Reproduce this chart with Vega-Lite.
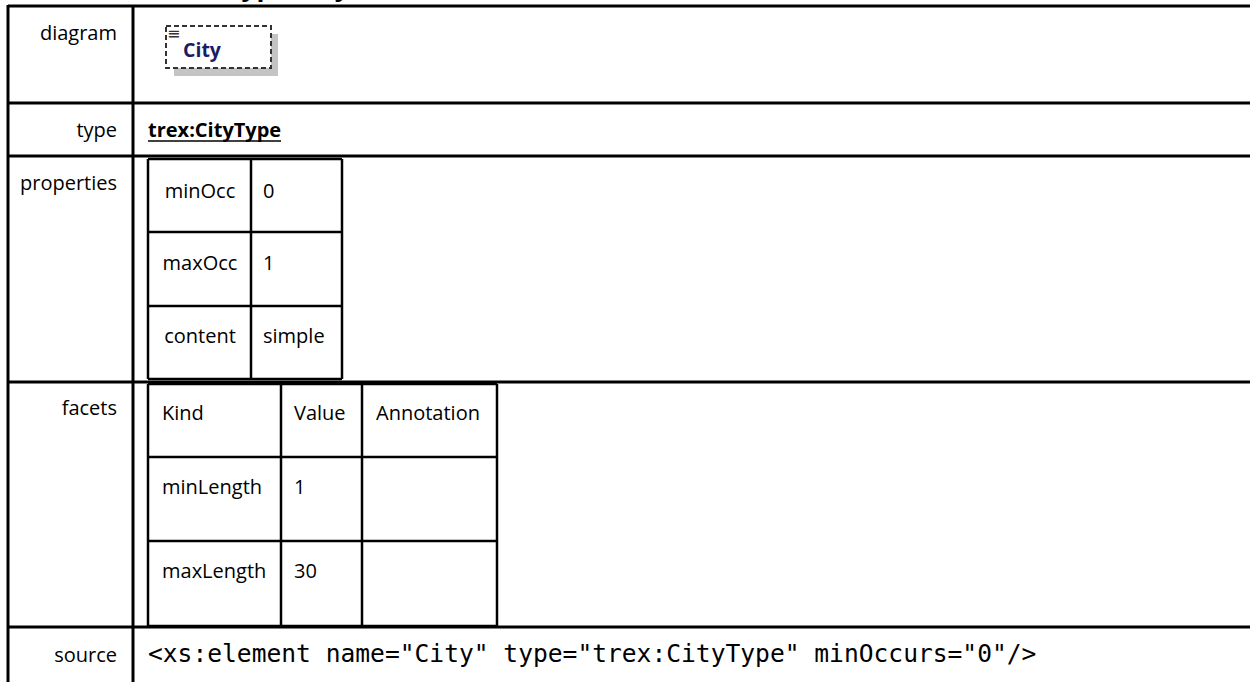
{
  "$schema": "https://vega.github.io/schema/vega-lite/v6.json",
  "width": 1250,
  "height": 682,
  "padding": 0,
  "autosize": {"type": "none"},
  "background": "white",
  "config": {"view": {"stroke": null}},
  "datasets": {
    "boxes": [
      {"part": "shadow", "x": 174, "x2": 278, "y": 34, "y2": 76},
      {"part": "box", "x": 166, "x2": 271, "y": 26, "y2": 68}
    ],
    "rules": [
      {"tbl": "outer", "x": 8, "x2": 1250, "y": 6, "y2": 6},
      {"tbl": "outer", "x": 8, "x2": 1250, "y": 103, "y2": 103},
      {"tbl": "outer", "x": 8, "x2": 1250, "y": 156, "y2": 156},
      {"tbl": "outer", "x": 8, "x2": 1250, "y": 382, "y2": 382},
      {"tbl": "outer", "x": 8, "x2": 1250, "y": 627, "y2": 627},
      {"tbl": "outer", "x": 8, "x2": 8, "y": 5, "y2": 682},
      {"tbl": "outer", "x": 133, "x2": 133, "y": 5, "y2": 682},
      {"tbl": "inner", "x": 148, "x2": 342, "y": 159, "y2": 159},
      {"tbl": "inner", "x": 148, "x2": 342, "y": 232, "y2": 232},
      {"tbl": "inner", "x": 148, "x2": 342, "y": 306, "y2": 306},
      {"tbl": "inner", "x": 148, "x2": 342, "y": 379, "y2": 379},
      {"tbl": "inner", "x": 148, "x2": 148, "y": 159, "y2": 379},
      {"tbl": "inner", "x": 251, "x2": 251, "y": 159, "y2": 379},
      {"tbl": "inner", "x": 342, "x2": 342, "y": 159, "y2": 379},
      {"tbl": "inner", "x": 148, "x2": 497, "y": 384, "y2": 384},
      {"tbl": "inner", "x": 148, "x2": 497, "y": 457, "y2": 457},
      {"tbl": "inner", "x": 148, "x2": 497, "y": 541, "y2": 541},
      {"tbl": "inner", "x": 148, "x2": 497, "y": 626, "y2": 626},
      {"tbl": "inner", "x": 148, "x2": 148, "y": 384, "y2": 626},
      {"tbl": "inner", "x": 281, "x2": 281, "y": 384, "y2": 626},
      {"tbl": "inner", "x": 362, "x2": 362, "y": 384, "y2": 626},
      {"tbl": "inner", "x": 497, "x2": 497, "y": 384, "y2": 626},
      {"tbl": "underline", "x": 148, "x2": 281, "y": 141, "y2": 141}
    ],
    "texts": [
      {"role": "title", "text": "element AddressType/City", "x": 8, "y": -4},
      {"role": "label", "text": "diagram", "x": 117, "y": 40},
      {"role": "label", "text": "type", "x": 117, "y": 137},
      {"role": "label", "text": "properties", "x": 117, "y": 190},
      {"role": "label", "text": "facets", "x": 117, "y": 415},
      {"role": "label", "text": "source", "x": 117, "y": 662},
      {"role": "link", "text": "trex:CityType", "x": 148, "y": 137},
      {"role": "center", "text": "minOcc", "x": 200, "y": 198},
      {"role": "center", "text": "maxOcc", "x": 200, "y": 270},
      {"role": "center", "text": "content", "x": 200, "y": 343},
      {"role": "cell", "text": "0", "x": 263, "y": 198},
      {"role": "cell", "text": "1", "x": 263, "y": 270},
      {"role": "cell", "text": "simple", "x": 263, "y": 343},
      {"role": "cell", "text": "Kind", "x": 162, "y": 420},
      {"role": "cell", "text": "Value", "x": 294, "y": 420},
      {"role": "cell", "text": "Annotation", "x": 376, "y": 420},
      {"role": "cell", "text": "minLength", "x": 162, "y": 494},
      {"role": "cell", "text": "1", "x": 294, "y": 494},
      {"role": "cell", "text": "maxLength", "x": 162, "y": 578},
      {"role": "cell", "text": "30", "x": 294, "y": 578},
      {"role": "code", "text": "<xs:element name=\"City\" type=\"trex:CityType\" minOccurs=\"0\"/>", "x": 148, "y": 662},
      {"role": "boxname", "text": "City", "x": 183, "y": 57},
      {"role": "icon", "text": "≡", "x": 167, "y": 39}
    ]
  },
  "encoding": {
    "x": {"field": "x", "type": "quantitative", "scale": {"domain": [0, 1250], "range": [0, 1250], "zero": false, "nice": false}, "axis": null},
    "y": {"field": "y", "type": "quantitative", "scale": {"domain": [0, 682], "range": [0, 682], "zero": false, "nice": false}, "axis": null}
  },
  "layer": [
    {
      "data": {"name": "boxes"},
      "transform": [{"filter": "datum.part == 'shadow'"}],
      "mark": {"type": "rect", "fill": "#c4c4c4"},
      "encoding": {"x2": {"field": "x2"}, "y2": {"field": "y2"}}
    },
    {
      "data": {"name": "boxes"},
      "transform": [{"filter": "datum.part == 'box'"}],
      "mark": {"type": "rect", "fill": "white", "stroke": "#333333", "strokeWidth": 2, "strokeDash": [5, 3]},
      "encoding": {"x2": {"field": "x2"}, "y2": {"field": "y2"}}
    },
    {
      "data": {"name": "rules"},
      "transform": [{"filter": "datum.tbl == 'outer'"}],
      "mark": {"type": "rule", "color": "black", "strokeWidth": 3},
      "encoding": {"x2": {"field": "x2"}, "y2": {"field": "y2"}}
    },
    {
      "data": {"name": "rules"},
      "transform": [{"filter": "datum.tbl == 'inner'"}],
      "mark": {"type": "rule", "color": "black", "strokeWidth": 2.5},
      "encoding": {"x2": {"field": "x2"}, "y2": {"field": "y2"}}
    },
    {
      "data": {"name": "rules"},
      "transform": [{"filter": "datum.tbl == 'underline'"}],
      "mark": {"type": "rule", "color": "black", "strokeWidth": 1.5},
      "encoding": {"x2": {"field": "x2"}, "y2": {"field": "y2"}}
    },
    {
      "data": {"name": "texts"},
      "transform": [{"filter": "datum.role == 'title'"}],
      "mark": {"type": "text", "align": "left", "baseline": "alphabetic", "font": "Open Sans", "fontWeight": "bold", "fontSize": 26, "color": "black"},
      "encoding": {"text": {"field": "text"}}
    },
    {
      "data": {"name": "texts"},
      "transform": [{"filter": "datum.role == 'label'"}],
      "mark": {"type": "text", "align": "right", "baseline": "alphabetic", "font": "Open Sans", "fontSize": 20, "color": "black"},
      "encoding": {"text": {"field": "text"}}
    },
    {
      "data": {"name": "texts"},
      "transform": [{"filter": "datum.role == 'link'"}],
      "mark": {"type": "text", "align": "left", "baseline": "alphabetic", "font": "Open Sans", "fontWeight": "bold", "fontSize": 20, "color": "black"},
      "encoding": {"text": {"field": "text"}}
    },
    {
      "data": {"name": "texts"},
      "transform": [{"filter": "datum.role == 'center'"}],
      "mark": {"type": "text", "align": "center", "baseline": "alphabetic", "font": "Open Sans", "fontSize": 20, "color": "black"},
      "encoding": {"text": {"field": "text"}}
    },
    {
      "data": {"name": "texts"},
      "transform": [{"filter": "datum.role == 'cell'"}],
      "mark": {"type": "text", "align": "left", "baseline": "alphabetic", "font": "Open Sans", "fontSize": 20, "color": "black"},
      "encoding": {"text": {"field": "text"}}
    },
    {
      "data": {"name": "texts"},
      "transform": [{"filter": "datum.role == 'code'"}],
      "mark": {"type": "text", "align": "left", "baseline": "alphabetic", "font": "DejaVu Sans Mono", "fontSize": 24.6, "color": "black"},
      "encoding": {"text": {"field": "text"}}
    },
    {
      "data": {"name": "texts"},
      "transform": [{"filter": "datum.role == 'boxname'"}],
      "mark": {"type": "text", "align": "left", "baseline": "alphabetic", "font": "Open Sans", "fontWeight": "bold", "fontSize": 19.5, "color": "#1c1c66"},
      "encoding": {"text": {"field": "text"}}
    },
    {
      "data": {"name": "texts"},
      "transform": [{"filter": "datum.role == 'icon'"}],
      "mark": {"type": "text", "align": "left", "baseline": "alphabetic", "font": "DejaVu Sans", "fontSize": 16, "color": "#333333"},
      "encoding": {"text": {"field": "text"}}
    }
  ]
}
